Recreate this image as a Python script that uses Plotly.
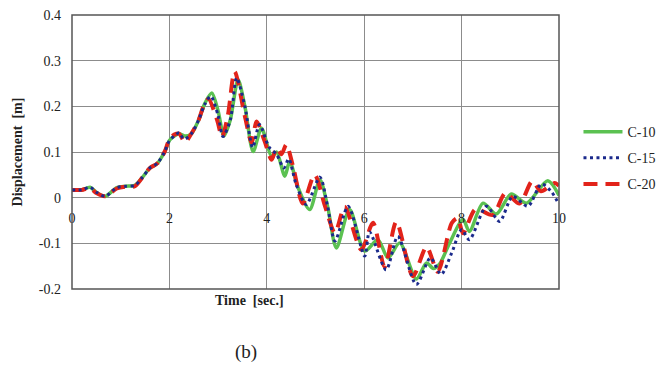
import plotly.graph_objects as go

# ---- data ----
t_c10 = [0, 0.2, 0.37, 0.5, 0.68, 0.92, 1.1, 1.29, 1.45, 1.6, 1.75, 1.9, 2.0, 2.1, 2.2, 2.32,
         2.45, 2.6, 2.73, 2.87, 3.0, 3.12, 3.25, 3.41, 3.55, 3.72, 3.89, 4.1, 4.2, 4.37, 4.47,
         4.65, 4.88, 5.09, 5.25, 5.43, 5.70, 6.01, 6.28, 6.49, 6.73, 7.07, 7.28, 7.42, 7.55,
         7.75, 8.03, 8.16, 8.44, 8.71, 9.02, 9.33, 9.77, 10.0]
v_c10 = [0.017, 0.017, 0.023, 0.012, 0.003, 0.022, 0.025, 0.027, 0.045, 0.065, 0.075, 0.1,
         0.125, 0.135, 0.14, 0.135, 0.14, 0.17, 0.207, 0.229, 0.19, 0.135, 0.17, 0.258, 0.2,
         0.101, 0.152, 0.09, 0.1, 0.047, 0.079, 0.02, -0.026, 0.039, -0.02, -0.11, -0.026,
         -0.117, -0.092, -0.132, -0.099, -0.178, -0.143, -0.155, -0.145, -0.1, -0.048, -0.074,
         -0.012, -0.036, 0.008, -0.012, 0.037, 0.005]

t_c15 = [0, 0.2, 0.37, 0.5, 0.68, 0.92, 1.1, 1.29, 1.45, 1.6, 1.75, 1.9, 2.0, 2.1, 2.2, 2.3,
         2.45, 2.6, 2.73, 2.85, 3.0, 3.1, 3.25, 3.38, 3.55, 3.71, 3.85, 4.05, 4.2, 4.35, 4.45,
         4.6, 4.81, 5.09, 5.25, 5.40, 5.67, 6.01, 6.11, 6.45, 6.69, 7.07, 7.36, 7.58, 7.8, 8.0,
         8.16, 8.51, 8.78, 9.05, 9.36, 9.64, 9.85, 10.0]
v_c15 = [0.017, 0.017, 0.023, 0.012, 0.003, 0.022, 0.025, 0.027, 0.045, 0.065, 0.075, 0.1,
         0.125, 0.135, 0.142, 0.128, 0.14, 0.17, 0.205, 0.222, 0.18, 0.134, 0.17, 0.262, 0.2,
         0.11, 0.16, 0.11, 0.095, 0.065, 0.085, 0.03, -0.015, 0.045, -0.02, -0.095, -0.019,
         -0.128, -0.075, -0.158, -0.085, -0.19, -0.132, -0.168, -0.12, -0.07, -0.092, -0.019,
         -0.052, 0.003, -0.019, 0.03, 0.012, -0.015]

t_c20 = [0, 0.2, 0.37, 0.5, 0.68, 0.92, 1.1, 1.29, 1.45, 1.6, 1.75, 1.9, 2.0, 2.1, 2.2, 2.32,
         2.45, 2.6, 2.7, 2.8, 2.98, 3.08, 3.2, 3.34, 3.55, 3.69, 3.79, 3.95, 4.1, 4.2, 4.3,
         4.40, 4.54, 4.74, 4.98, 5.2, 5.40, 5.60, 5.94, 6.18, 6.42, 6.66, 7.0, 7.28, 7.51, 7.8,
         7.92, 8.03, 8.29, 8.64, 8.9, 9.19, 9.45, 9.63, 9.91, 10.0]
v_c20 = [0.017, 0.017, 0.021, 0.01, 0.003, 0.02, 0.024, 0.025, 0.045, 0.065, 0.075, 0.1,
         0.128, 0.138, 0.14, 0.121, 0.14, 0.17, 0.2, 0.216, 0.17, 0.133, 0.18, 0.276, 0.178,
         0.12, 0.167, 0.125, 0.083, 0.109, 0.095, 0.116, 0.068, -0.013, 0.05, -0.02, -0.077,
         -0.02, -0.114, -0.055, -0.152, -0.053, -0.172, -0.108, -0.162, -0.055, -0.045,
         -0.078, -0.025, -0.038, 0.01, -0.013, 0.036, 0.014, 0.032, 0.026]

y_ticks = [-0.2, -0.1, 0, 0.1, 0.2, 0.3, 0.4]
y_tick_text = ['-0.2', '-0.1', '0', '0.1', '0.2', '0.3', '0.4']
x_ticks = [0, 2, 4, 6, 8, 10]
x_tick_text = ['0', '2', '4', '6', '8', '10']

FONT = "Liberation Serif"

fig = go.Figure()
fig.add_trace(go.Scatter(x=t_c10, y=v_c10, name="C-10", mode="lines", legendrank=1,
                         legendgroup="a",
                         line=dict(color="#5BC151", width=3.5, shape="spline", smoothing=0.8)))
fig.add_trace(go.Scatter(x=t_c20, y=v_c20, name="C-20", mode="lines", legendrank=3,
                         legendgroup="c",
                         line=dict(color="#E2231A", width=4, dash="14px,8px", shape="spline",
                                   smoothing=0.8)))
fig.add_trace(go.Scatter(x=t_c15, y=v_c15, name="C-15", mode="lines", legendrank=2,
                         legendgroup="b",
                         line=dict(color="#1B2A8C", width=3, dash="3px,3.5px", shape="spline",
                                   smoothing=0.8)))

fig.update_layout(
    width=659, height=365,
    margin=dict(l=72, r=99.5, t=15, b=76, autoexpand=False),
    paper_bgcolor="white", plot_bgcolor="white",
    font=dict(family=FONT, size=14, color="#222"),
    showlegend=True,
    legend=dict(x=(579 - 72) / 487.5, xanchor="left", y=0.478, yanchor="middle",
                traceorder="grouped", tracegroupgap=5, itemwidth=39,
                font=dict(family=FONT, size=14, color="#222"),
                bgcolor="rgba(0,0,0,0)"),
    xaxis=dict(range=[0, 10], tickvals=x_ticks, ticktext=x_tick_text,
               showgrid=True, gridcolor="#8c8c8c", gridwidth=1,
               zeroline=False, showline=False,
               anchor="free", position=1/3, ticks="", ticklabelstandoff=10,
               tickfont=dict(family=FONT, size=14, color="#222")),
    yaxis=dict(range=[-0.2, 0.4], tickvals=y_ticks, ticktext=y_tick_text,
               showgrid=True, gridcolor="#8c8c8c", gridwidth=1,
               zeroline=False, showline=False, ticks="",
               ticklabelstandoff=10,
               tickfont=dict(family=FONT, size=14, color="#222"),
               title=dict(text="<b>Displacement  [m]</b>", standoff=12,
                          font=dict(family=FONT, size=14, color="#222"))),
    shapes=[dict(type="rect", xref="paper", yref="paper", x0=0, x1=1, y0=0, y1=1,
                 line=dict(color="#555", width=1.5), layer="above")],
    annotations=[
        dict(text="<b>Time  [sec.]</b>", xref="paper", yref="paper",
             x=(250 - 72) / 487.5, y=(289 - 300) / 274, xanchor="center", yanchor="middle",
             showarrow=False, font=dict(family=FONT, size=14, color="#222")),
        dict(text="(b)", xref="paper", yref="paper",
             x=(246 - 72) / 487.5, y=(289 - 352) / 274, xanchor="center", yanchor="middle",
             showarrow=False, font=dict(family=FONT, size=19, color="#222")),
    ],
)

fig.write_html("out.html")
